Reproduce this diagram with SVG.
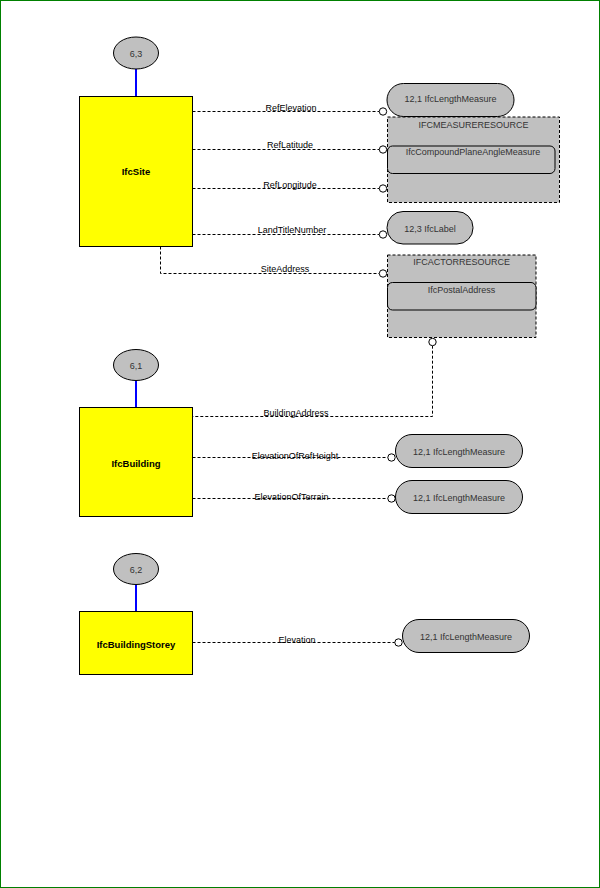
<svg xmlns="http://www.w3.org/2000/svg" width="600" height="888" viewBox="0 0 600 888">
<defs>
<style>
.ent{fill:#ffff00;stroke:#000;stroke-width:1}
.ell{fill:#c0c0c0;stroke:#000;stroke-width:1}
.pill{fill:#c0c0c0;stroke:#000;stroke-width:1}
.sch{fill:#c0c0c0;stroke:#000;stroke-width:1;stroke-dasharray:3,2}
.inner{fill:#c0c0c0;stroke:#000;stroke-width:1}
.blue{stroke:#0000ff;stroke-width:2;fill:none}
.dash{stroke:#000;stroke-width:1;fill:none;stroke-dasharray:3,2}
.dot{fill:#fff;stroke:#000;stroke-width:1}
text{font-family:"Liberation Sans",Arial,sans-serif;font-size:9px;fill:#000;text-anchor:middle}
.bold{font-weight:bold;font-size:9.5px}
.gt{fill:#333}
</style>
</defs>
<rect x="0.5" y="0.5" width="599" height="887" fill="#fff" stroke="#008000" stroke-width="1"/>

<g id="connectors">
<line class="blue" x1="136" y1="69" x2="136" y2="96"/>
<line class="blue" x1="136" y1="381" x2="136" y2="407"/>
<line class="blue" x1="136" y1="585" x2="136" y2="611"/>
<path class="dash" d="M192.5,111.5 H379.3"/>
<path class="dash" d="M192.5,149.5 H379.3"/>
<path class="dash" d="M192.5,188.5 H379.3"/>
<path class="dash" d="M192.5,234.5 H379.3"/>
<path class="dash" d="M160.5,246.5 V273.5 H379.3"/>
<path class="dash" d="M432.5,345.7 V416.5 H192.5"/>
<path class="dash" d="M192.5,457.5 H387.8"/>
<path class="dash" d="M192.5,498.5 H387.8"/>
<path class="dash" d="M192.5,642.5 H394.8"/>
<circle class="dot" cx="383" cy="111.5" r="3.7"/>
<circle class="dot" cx="383" cy="149.5" r="3.7"/>
<circle class="dot" cx="383" cy="188.5" r="3.7"/>
<circle class="dot" cx="383" cy="234.5" r="3.7"/>
<circle class="dot" cx="383" cy="273.5" r="3.7"/>
<circle class="dot" cx="432.5" cy="342" r="3.7"/>
<circle class="dot" cx="391.5" cy="457.5" r="3.7"/>
<circle class="dot" cx="391.5" cy="498.5" r="3.7"/>
<circle class="dot" cx="398.5" cy="642.5" r="3.7"/>
<text x="291" y="110.5">RefElevation</text>
<text x="290" y="148">RefLatitude</text>
<text x="290" y="187.5">RefLongitude</text>
<text x="292" y="232.5">LandTitleNumber</text>
<text x="285" y="272">SiteAddress</text>
<text x="296" y="416">BuildingAddress</text>
<text x="295" y="459">ElevationOfRefHeight</text>
<text x="291.5" y="500">ElevationOfTerrain</text>
<text x="297" y="643">Elevation</text>
</g>

<g id="ref-6-3">
<ellipse class="ell" cx="136" cy="53" rx="22.5" ry="16"/>
<text class="gt" x="136" y="56.5">6,3</text>
</g>
<g id="IfcSite">
<rect class="ent" x="79.5" y="96.5" width="113" height="150"/>
<text class="bold" x="136" y="175">IfcSite</text>
</g>

<g id="ref-6-1">
<ellipse class="ell" cx="136" cy="365" rx="22.5" ry="15.5"/>
<text class="gt" x="136" y="368.5">6,1</text>
</g>
<g id="IfcBuilding">
<rect class="ent" x="79.5" y="407.5" width="113" height="109"/>
<text class="bold" x="136" y="467">IfcBuilding</text>
</g>

<g id="ref-6-2">
<ellipse class="ell" cx="136" cy="569" rx="22.5" ry="15.5"/>
<text class="gt" x="136" y="572.5">6,2</text>
</g>
<g id="IfcBuildingStorey">
<rect class="ent" x="79.5" y="611.5" width="113" height="63"/>
<text class="bold" x="136" y="647.5">IfcBuildingStorey</text>
</g>

<g id="len1">
<rect class="pill" x="387" y="83.5" width="127" height="33" rx="16.5"/>
<text class="gt" x="450.5" y="101.5">12,1 IfcLengthMeasure</text>
</g>
<g id="measureresource">
<rect class="sch" x="387.5" y="117" width="172" height="85.5"/>
<text class="gt" x="473.5" y="127.5">IFCMEASURERESOURCE</text>
<rect class="inner" x="387.5" y="146" width="167.5" height="27.5" rx="5"/>
<text class="gt" x="473" y="155">IfcCompoundPlaneAngleMeasure</text>
</g>
<g id="label">
<rect class="pill" x="387" y="211.5" width="86" height="32.5" rx="16"/>
<text class="gt" x="430" y="231.5">12,3 IfcLabel</text>
</g>
<g id="actorresource">
<rect class="sch" x="387.5" y="255" width="148.5" height="82.5"/>
<text class="gt" x="461.7" y="264.5">IFCACTORRESOURCE</text>
<rect class="inner" x="387.5" y="282.5" width="148.5" height="27.5" rx="5"/>
<text class="gt" x="461.5" y="292.5">IfcPostalAddress</text>
</g>
<g id="len2">
<rect class="pill" x="395.5" y="434.5" width="127" height="33" rx="16.5"/>
<text class="gt" x="459" y="454.5">12,1 IfcLengthMeasure</text>
</g>
<g id="len3">
<rect class="pill" x="395.5" y="480.5" width="127" height="33" rx="16.5"/>
<text class="gt" x="459" y="500.5">12,1 IfcLengthMeasure</text>
</g>
<g id="len4">
<rect class="pill" x="402.5" y="619.5" width="127" height="33" rx="16.5"/>
<text class="gt" x="466" y="639.5">12,1 IfcLengthMeasure</text>
</g>
</svg>
